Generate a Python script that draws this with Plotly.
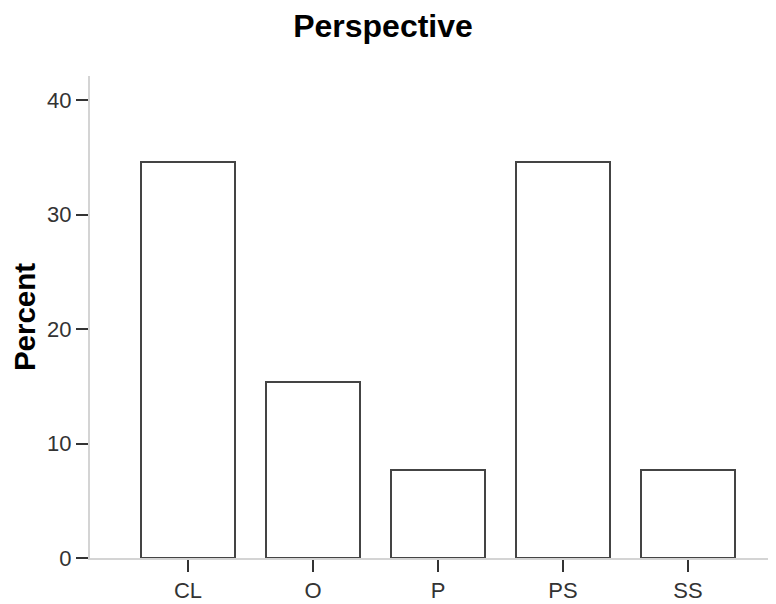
import plotly.graph_objects as go

categories = ["CL", "O", "P", "PS", "SS"]
percent = [34.6, 15.4, 7.7, 34.6, 7.7]
y_tick_values = [0, 10, 20, 30, 40]
title_text = "Perspective"
y_title = "Percent"

# page has an 8px body margin, so the figure is drawn 8px in from the top-left
FIG_W, FIG_H = 768, 596

fig = go.Figure(
    go.Bar(
        x=categories,
        y=percent,
        width=0.752,
        marker=dict(color="white", line=dict(color="#444444", width=2)),
        hoverinfo="x+y",
    )
)

fig.update_layout(
    width=FIG_W,
    height=FIG_H,
    margin=dict(l=82, r=0, t=68, b=46, autoexpand=False),
    paper_bgcolor="white",
    plot_bgcolor="white",
    font=dict(family="Liberation Sans, Arial, sans-serif", color="#333333"),
    title=dict(
        text=title_text,
        font=dict(size=32, color="black", family="Liberation Sans, Arial, sans-serif", weight="bold"),
        x=375 / FIG_W,
        xref="container",
        xanchor="center",
        y=1 - 17.5 / FIG_H,
        yref="container",
        yanchor="middle",
    ),
    showlegend=False,
    bargap=0,
)

fig.update_xaxes(
    range=[-0.784, 4.704],
    showgrid=False,
    zeroline=False,
    showline=True,
    linecolor="#d4d4d4",
    linewidth=2,
    ticks="outside",
    ticklen=12,
    tickwidth=2,
    tickcolor="#333333",
    tickfont=dict(size=22, color="#333333"),
    automargin=False,
)

fig.update_yaxes(
    range=[0, 42.1],
    tickvals=y_tick_values,
    showgrid=False,
    zeroline=False,
    showline=True,
    linecolor="#d4d4d4",
    linewidth=2,
    ticks="outside",
    ticklen=12,
    tickwidth=2,
    tickcolor="#333333",
    tickfont=dict(size=22, color="#333333"),
    automargin=False,
    title=dict(
        text=y_title,
        font=dict(size=29.5, color="black", weight="bold"),
        standoff=9,
    ),
)

fig.write_html("out.html")
